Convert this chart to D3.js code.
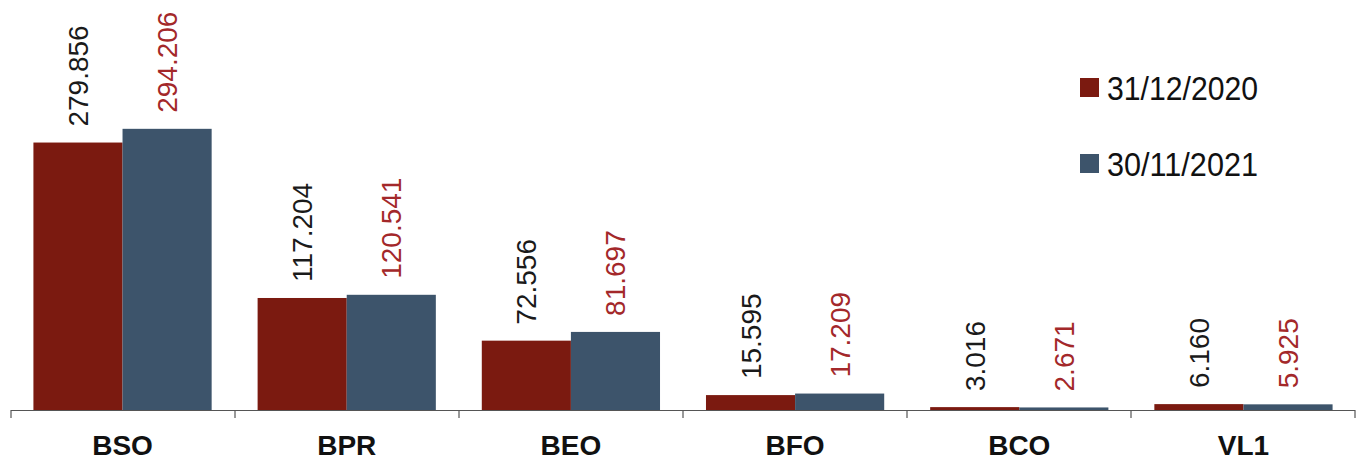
<!DOCTYPE html>
<html>
<head>
<meta charset="utf-8">
<script src="https://cdn.jsdelivr.net/npm/d3@7"></script>
<style>
  body { margin: 0; background: #fff; }
  svg { display: block; font-family: "Liberation Sans", Arial, sans-serif; }
</style>
</head>
<body>
<svg id="chart" width="1364" height="460"></svg>
<script>
// Data
var categories = ['BSO', 'BPR', 'BEO', 'BFO', 'BCO', 'VL1'];
var seriesNames = ['31/12/2020', '30/11/2021'];
var values2020 = [279.856, 117.204, 72.556, 15.595, 3.016, 6.160];
var values2021 = [294.206, 120.541, 81.697, 17.209, 2.671, 5.925];
var barColors = ['#7b1a10', '#3d546b'];
var labelColors = ['#1a1a1a', '#a3282a'];

var svg = d3.select('#chart');
var baseY = 410;

var x = d3.scaleBand().domain(categories).range([11, 1355]).paddingInner(0.205).paddingOuter(0.1);
var x1 = d3.scaleBand().domain([0, 1]).range([0, x.bandwidth()]);
var y = d3.scaleLinear().domain([0, 429]).range([baseY, 0]);

var rows = categories.map(function(c, i) { return { cat: c, vals: [values2020[i], values2021[i]] }; });

var groups = svg.selectAll('.grp').data(rows).join('g')
  .attr('transform', function(d) { return 'translate(' + x(d.cat) + ',0)'; });

groups.selectAll('rect').data(function(d) { return d.vals; }).join('rect')
  .attr('x', function(d, i) { return x1(i); })
  .attr('width', x1.bandwidth())
  .attr('y', function(d) { return y(d); })
  .attr('height', function(d) { return baseY - y(d); })
  .attr('fill', function(d, i) { return barColors[i]; });

// Value labels (rotated)
groups.selectAll('text.val').data(function(d) { return d.vals; }).join('text')
  .attr('class', 'val')
  .attr('transform', function(d, i) {
    return 'translate(' + (x1(i) + x1.bandwidth() / 2 + 10) + ',' + (y(d) - 16) + ') rotate(-90)';
  })
  .attr('font-size', 28)
  .attr('fill', function(d, i) { return labelColors[i]; })
  .text(function(d) { return d3.format('.3f')(d); });

// Axis line + ticks
var axisStep = (1355 - 11) / categories.length;
svg.append('line').attr('x1', 11).attr('x2', 1355).attr('y1', baseY + 0.5).attr('y2', baseY + 0.5)
  .attr('stroke', '#555').attr('stroke-width', 1.2);
svg.selectAll('.tick').data(d3.range(categories.length + 1)).join('line')
  .attr('x1', function(d) { return 11 + d * axisStep; }).attr('x2', function(d) { return 11 + d * axisStep; })
  .attr('y1', baseY).attr('y2', baseY + 8)
  .attr('stroke', '#555').attr('stroke-width', 1.2);

svg.selectAll('.cat').data(categories).join('text')
  .attr('x', function(d) { return x(d) + x.bandwidth() / 2; })
  .attr('y', 455)
  .attr('text-anchor', 'middle')
  .attr('font-size', 28)
  .attr('font-weight', 'bold')
  .attr('fill', '#111')
  .text(function(d) { return d; });

// Legend
var legend = svg.selectAll('.leg').data(seriesNames).join('g')
  .attr('transform', function(d, i) { return 'translate(1080,' + (78 + i * 76) + ')'; });
legend.append('rect').attr('width', 19).attr('height', 19)
  .attr('fill', function(d, i) { return barColors[i]; });
legend.append('text').attr('x', 27).attr('y', 22)
  .attr('font-size', 34).attr('fill', '#111')
  .attr('textLength', 151).attr('lengthAdjust', 'spacingAndGlyphs')
  .text(function(d) { return d; });
</script>
</body>
</html>
